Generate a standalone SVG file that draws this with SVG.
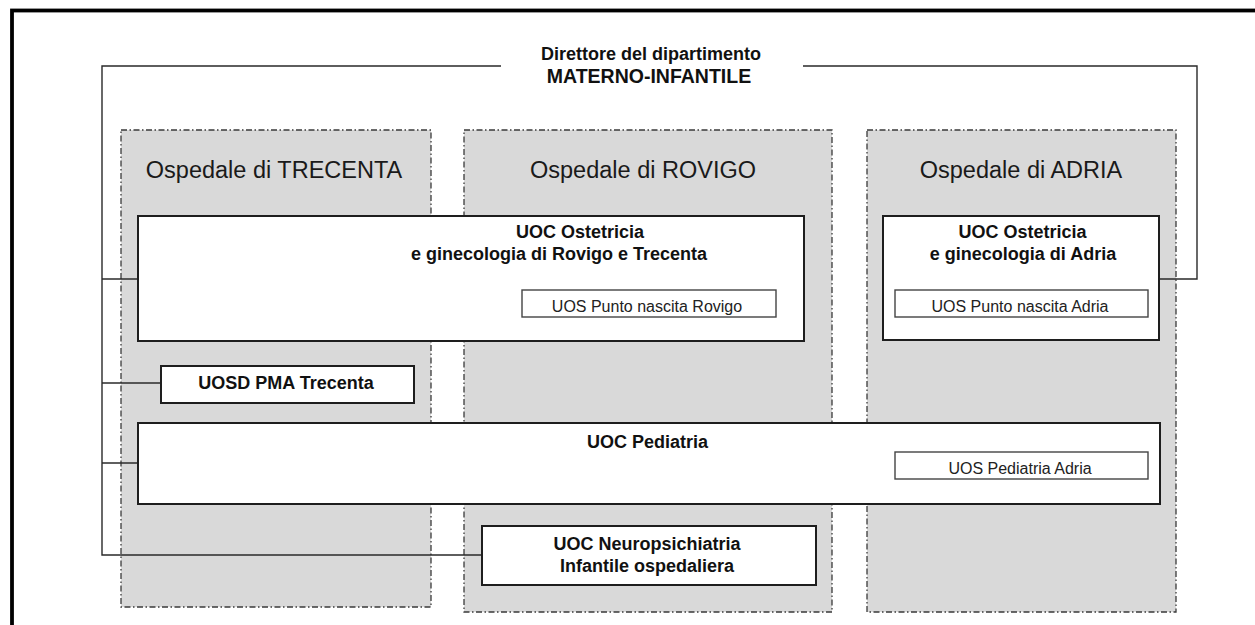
<svg xmlns="http://www.w3.org/2000/svg" width="1255" height="625" viewBox="0 0 1255 625">
<style>
.hosp{fill:#d9d9d9;stroke:#3a3a3a;stroke-width:1.3;stroke-dasharray:6 2.5 1.5 2.5}
.unit{fill:#fff;stroke:#1e1e1e;stroke-width:2}
.sub{fill:#fff;stroke:#444;stroke-width:1.4}
.conn{fill:none;stroke:#2a2a2a;stroke-width:1.4}
.ht{font-family:"Liberation Sans",Arial,sans-serif;font-size:23.5px;fill:#1a1a1a;text-anchor:middle}
.bt{font-family:"Liberation Sans",Arial,sans-serif;font-size:18px;font-weight:bold;fill:#111;text-anchor:middle}
.st{font-family:"Liberation Sans",Arial,sans-serif;font-size:16px;fill:#222;text-anchor:middle}
</style>
<rect width="1255" height="625" fill="#fff"/>
<rect id="frame" x="12" y="10.5" width="1300" height="700" fill="none" stroke="#000" stroke-width="3.8"/>

<g id="hosp-trecenta">
<rect class="hosp" x="121" y="130" width="310" height="477"/>
<text class="ht" x="274" y="178">Ospedale di TRECENTA</text>
</g>
<g id="hosp-rovigo">
<rect class="hosp" x="464" y="130" width="368" height="482"/>
<text class="ht" x="643" y="178">Ospedale di ROVIGO</text>
</g>
<g id="hosp-adria">
<rect class="hosp" x="867" y="130" width="309" height="482"/>
<text class="ht" x="1021" y="178">Ospedale di ADRIA</text>
</g>

<g id="connectors">
<path class="conn" d="M501 66 H102 V555 H482"/>
<path class="conn" d="M803 66 H1197 V279 H1159"/>
<path class="conn" d="M102 279 H138"/>
<path class="conn" d="M102 383 H161"/>
<path class="conn" d="M102 463 H138"/>
</g>

<g id="director">
<text class="bt" x="651" y="60">Direttore del dipartimento</text>
<text class="bt" x="649" y="83" style="font-size:19.5px">MATERNO-INFANTILE</text>
</g>

<g id="uoc-ostetricia-rovigo">
<rect class="unit" x="138" y="216" width="666" height="125"/>
<text class="bt" x="580" y="238">UOC Ostetricia</text>
<text class="bt" x="559" y="260">e ginecologia di Rovigo e Trecenta</text>
</g>
<g id="uos-punto-nascita-rovigo">
<rect class="sub" x="522" y="290" width="254" height="27"/>
<text class="st" x="647" y="312">UOS Punto nascita Rovigo</text>
</g>

<g id="uoc-ostetricia-adria">
<rect class="unit" x="883" y="216" width="276" height="124"/>
<text class="bt" x="1022.5" y="238">UOC Ostetricia</text>
<text class="bt" x="1023" y="260">e ginecologia di Adria</text>
</g>
<g id="uos-punto-nascita-adria">
<rect class="sub" x="895" y="290" width="253" height="27"/>
<text class="st" x="1020" y="312">UOS Punto nascita Adria</text>
</g>

<g id="uosd-pma-trecenta">
<rect class="unit" x="161" y="366" width="253" height="37"/>
<text class="bt" x="286" y="389">UOSD PMA Trecenta</text>
</g>

<g id="uoc-pediatria">
<rect class="unit" x="138" y="423" width="1022" height="81"/>
<text class="bt" x="647.5" y="448">UOC Pediatria</text>
</g>
<g id="uos-pediatria-adria">
<rect class="sub" x="895" y="452" width="253" height="27"/>
<text class="st" x="1020" y="474">UOS Pediatria Adria</text>
</g>

<g id="uoc-neuropsichiatria">
<rect class="unit" x="482" y="526" width="334" height="59"/>
<text class="bt" x="647" y="550">UOC Neuropsichiatria</text>
<text class="bt" x="647" y="572">Infantile ospedaliera</text>
</g>
</svg>
